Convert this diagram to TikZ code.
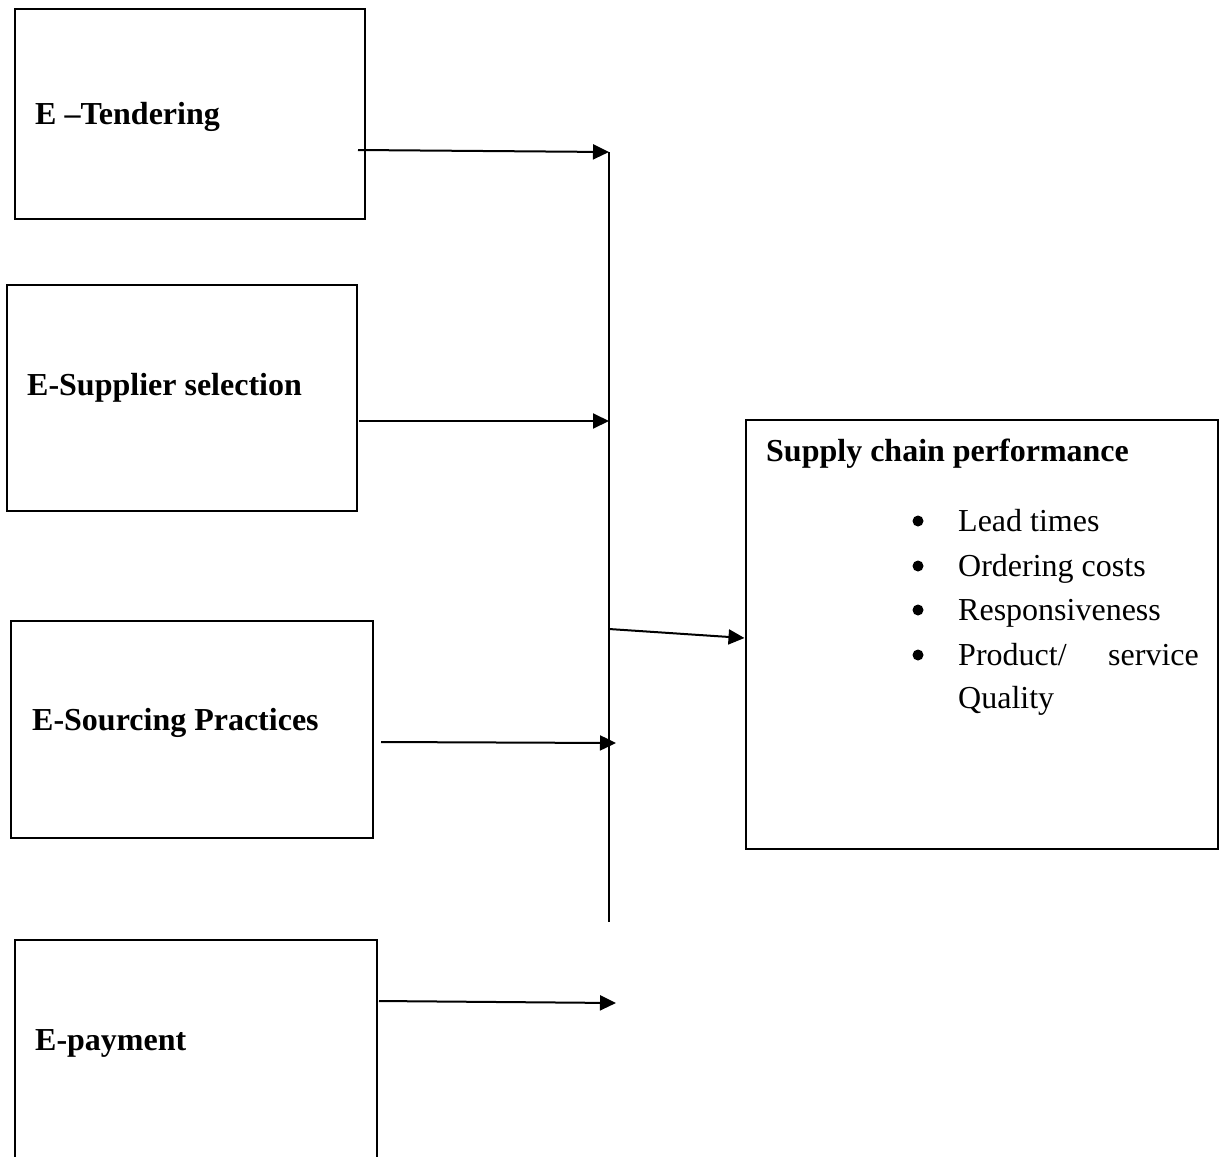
\documentclass[tikz,border=0pt]{standalone}
\usepackage{fontspec}
\setmainfont{Liberation Serif}
\usetikzlibrary{arrows.meta}
\begin{document}
\begin{tikzpicture}[x=1pt,y=-1pt,
  box/.style={draw,line width=2pt,inner sep=0pt},
  conn/.style={line width=2pt,-{Triangle[length=16pt,width=15pt]}},
  lbl/.style={anchor=base west,inner sep=0pt,font=\fontsize{32}{44}\selectfont\bfseries},
  item/.style={anchor=base west,inner sep=0pt,font=\fontsize{32}{44}\selectfont},
  dot/.style={circle,fill,inner sep=0pt,minimum size=11pt}]
\useasboundingbox (0,0) rectangle (1219,1157);
% boxes
\node[box,minimum width=350pt,minimum height=210pt] (b1) at (190,114) {};
\node[box,minimum width=350pt,minimum height=226pt] (b2) at (182,398) {};
\node[box,minimum width=362pt,minimum height=217pt] (b3) at (192,729.5) {};
\node[box,minimum width=362pt,minimum height=218pt] (b4) at (196,1049) {};
\node[box,minimum width=472pt,minimum height=429pt] (b5) at (981.5,634.5) {};
% labels
\node[lbl] (t1) at (35,124) {E –Tendering};
\node[lbl] (t2) at (27,395) {E-Supplier selection};
\node[lbl] (t3) at (32,730) {E-Sourcing Practices};
\node[lbl] (t4) at (35,1050) {E-payment};
\node[lbl] (t5) at (766,461) {Supply chain performance};
\node[dot] (d1) at (918,521) {};
\node[dot] (d2) at (918,566) {};
\node[dot] (d3) at (918,610) {};
\node[dot] (d4) at (918,655) {};
\node[item] (i1) at (958,531) {Lead times};
\node[item] (i2) at (958,576) {Ordering costs};
\node[item] (i3) at (958,620) {Responsiveness};
\node[item] (i4) at (958,665) {Product/};
\node[item,anchor=base east] (i4b) at (1199,665) {service};
\node[item] (i5) at (958,708) {Quality};
% bus line
\coordinate (top) at (609,152);
\coordinate (bot) at (609,922);
\draw[line width=2pt] (top) -- (bot);
% arrow start/end points
\coordinate (s1) at (358,150);
\coordinate (s2) at (359,421);
\coordinate (e2) at (609,421);
\coordinate (s3) at (381,742);
\coordinate (e3) at (616,743);
\coordinate (s4) at (379,1001);
\coordinate (e4) at (616,1003);
\coordinate (s5) at (609,629);
\draw[conn] (s1) -- (top);
\draw[conn] (s2) -- (e2);
\draw[conn] (s3) -- (e3);
\draw[conn] (s4) -- (e4);
\draw[conn] (s5) -- (b5.west |- 0,638);
\end{tikzpicture}
\end{document}
